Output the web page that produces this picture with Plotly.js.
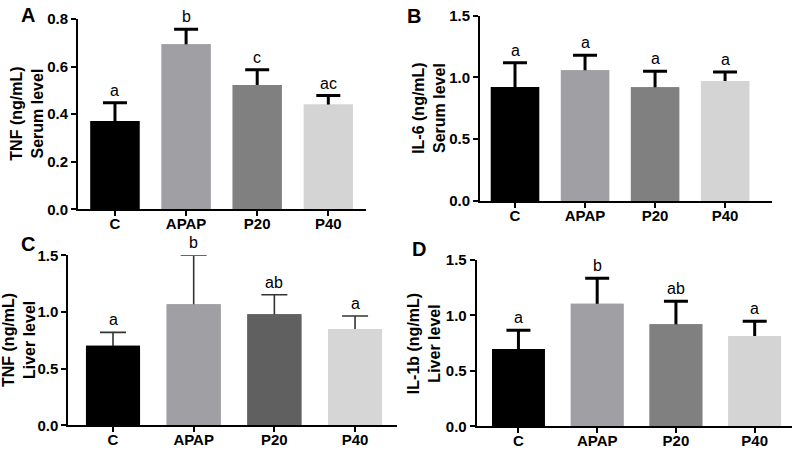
<!DOCTYPE html>
<html>
<head>
<meta charset="utf-8">
<script src="https://cdn.plot.ly/plotly-3.0.1.min.js"></script>
<style>html,body{margin:0;padding:0;background:#fff;}#chart{width:797px;height:452px;}</style>
</head>
<body>
<div id="chart"></div>
<script>
// ---- data ----
const categories = ["C", "APAP", "P20", "P40"];

const tnfSerum = [0.371, 0.694, 0.523, 0.441];
const tnfSerumErr = [0.077, 0.063, 0.064, 0.037];
const tnfSerumLetters = ["a", "b", "c", "ac"];

const il6Serum = [0.923, 1.058, 0.920, 0.971];
const il6SerumErr = [0.197, 0.122, 0.130, 0.073];
const il6SerumLetters = ["a", "a", "a", "a"];

const tnfLiver = [0.702, 1.068, 0.979, 0.850];
const tnfLiverErr = [0.118, 0.432, 0.173, 0.115];
const tnfLiverLetters = ["a", "b", "ab", "a"];

const il1bLiver = [0.697, 1.106, 0.920, 0.815];
const il1bLiverErr = [0.169, 0.229, 0.208, 0.132];
const il1bLiverLetters = ["a", "b", "ab", "a"];

const panelLabels = ["A", "B", "C", "D"];
const yTitles = ["TNF (ng/mL)<br>Serum level", "IL-6 (ng/mL)<br>Serum level",
                 "TNF (ng/mL)<br>Liver level", "IL-1b (ng/mL)<br>Liver level"];

// ---- layout helpers ----
const W = 797, H = 452;
const px = v => v / W;
const py = v => 1 - v / H;

const panels = [
  {vals: tnfSerum, err: tnfSerumErr, letters: tnfSerumLetters,
   colors: ["#000000", "#a0a0a4", "#808080", "#d4d4d4"],
   x0: 78, x1: 366, yTop: 19, yBot: 209.3, ymax: 0.8, dtick: 0.2, xr: [-0.52, 3.53],
   errW: 3, errC: "#000000", cap: 12, width: 0.69,
   titleX: 27.5, letter: [28, 15]},
  {vals: il6Serum, err: il6SerumErr, letters: il6SerumLetters,
   colors: ["#000000", "#a0a0a4", "#808080", "#d4d4d4"],
   x0: 480, x1: 772, yTop: 15.7, yBot: 201, ymax: 1.5, dtick: 0.5, xr: [-0.5, 3.67],
   errW: 3, errC: "#000000", cap: 12, width: 0.69,
   titleX: 429.5, letter: [414, 16]},
  {vals: tnfLiver, err: tnfLiverErr, letters: tnfLiverLetters,
   colors: ["#000000", "#a0a0a4", "#606060", "#d6d6d6"],
   x0: 68.3, x1: 397, yTop: 255.3, yBot: 425.3, ymax: 1.5, dtick: 0.5, xr: [-0.554, 3.52],
   errW: 1.6, errC: "#333333", cap: 13, width: 0.67,
   titleX: 19.7, letter: [28, 244]},
  {vals: il1bLiver, err: il1bLiverErr, letters: il1bLiverLetters,
   colors: ["#000000", "#a0a0a4", "#808080", "#d4d4d4"],
   x0: 476.7, x1: 791.7, yTop: 260, yBot: 426.3, ymax: 1.5, dtick: 0.5, xr: [-0.53, 3.47],
   errW: 3, errC: "#000000", cap: 12, width: 0.67,
   titleX: 424, letter: [419, 249]}
];

const data = [];
const layout = {
  width: W, height: H,
  margin: {l: 0, r: 0, t: 0, b: 0, pad: 0},
  paper_bgcolor: "#ffffff", plot_bgcolor: "#ffffff",
  showlegend: false, barmode: "overlay",
  font: {family: "Liberation Sans, Arial, sans-serif", color: "#000"},
  annotations: []
};

const tickFont = {size: 15, family: "Liberation Sans, Arial, sans-serif", weight: "bold", color: "#000"};

panels.forEach((p, i) => {
  const n = i + 1;
  const xa = n === 1 ? "x" : "x" + n;
  const ya = n === 1 ? "y" : "y" + n;
  // bars carrying the SD error bars (lower half is hidden by the bars drawn on top)
  data.push({
    type: "bar", x: categories, y: p.vals, xaxis: xa, yaxis: ya,
    width: p.width,
    marker: {color: p.colors, line: {width: 0}},
    error_y: {type: "data", array: p.err, thickness: p.errW, width: p.cap, color: p.errC},
    hoverinfo: "skip"
  });
  // opaque bars on top
  data.push({
    type: "bar", x: categories, y: p.vals, xaxis: xa, yaxis: ya,
    width: p.width, opacity: 1,
    marker: {color: p.colors, line: {width: 0}},
    hoverinfo: "skip"
  });
  const xk = n === 1 ? "xaxis" : "xaxis" + n;
  const yk = n === 1 ? "yaxis" : "yaxis" + n;
  layout[xk] = {
    domain: [px(p.x0), px(p.x1)], anchor: ya, type: "category",
    range: p.xr, showline: true, linewidth: 2, linecolor: "#000",
    ticks: "outside", ticklen: 5, tickwidth: 2, tickcolor: "#000",
    ticklabelstandoff: -5,
    showgrid: false, zeroline: false, fixedrange: true,
    tickfont: tickFont
  };
  layout[yk] = {
    domain: [py(p.yBot), py(p.yTop)], anchor: xa,
    range: [0, p.ymax], dtick: p.dtick, tick0: 0, tickformat: ".1f",
    showline: true, linewidth: 2, linecolor: "#000",
    ticks: "outside", ticklen: 5, tickwidth: 2, tickcolor: "#000",
    showgrid: false, zeroline: false, fixedrange: true,
    tickfont: tickFont
  };
  // y title
  layout.annotations.push({
    xref: "paper", yref: "paper", x: px(p.titleX), y: (py(p.yBot) + py(p.yTop)) / 2,
    text: yTitles[i], showarrow: false, textangle: -90,
    xanchor: "center", yanchor: "middle",
    font: {size: 16, weight: "bold", color: "#000"}
  });
  // panel letter
  layout.annotations.push({
    xref: "paper", yref: "paper", x: px(p.letter[0]), y: py(p.letter[1]),
    text: panelLabels[i], showarrow: false, xanchor: "center", yanchor: "middle",
    font: {size: 20, weight: "bold", color: "#000"}
  });
  // significance letters
  categories.forEach((c, j) => {
    layout.annotations.push({
      xref: xa, yref: ya, x: c, y: p.vals[j] + p.err[j],
      text: p.letters[j], showarrow: false, xanchor: "center", yanchor: "bottom",
      yshift: 2, font: {size: 16, color: "#000"}
    });
  });
});

Plotly.newPlot("chart", data, layout, {displayModeBar: false, staticPlot: true});
</script>
</body>
</html>
